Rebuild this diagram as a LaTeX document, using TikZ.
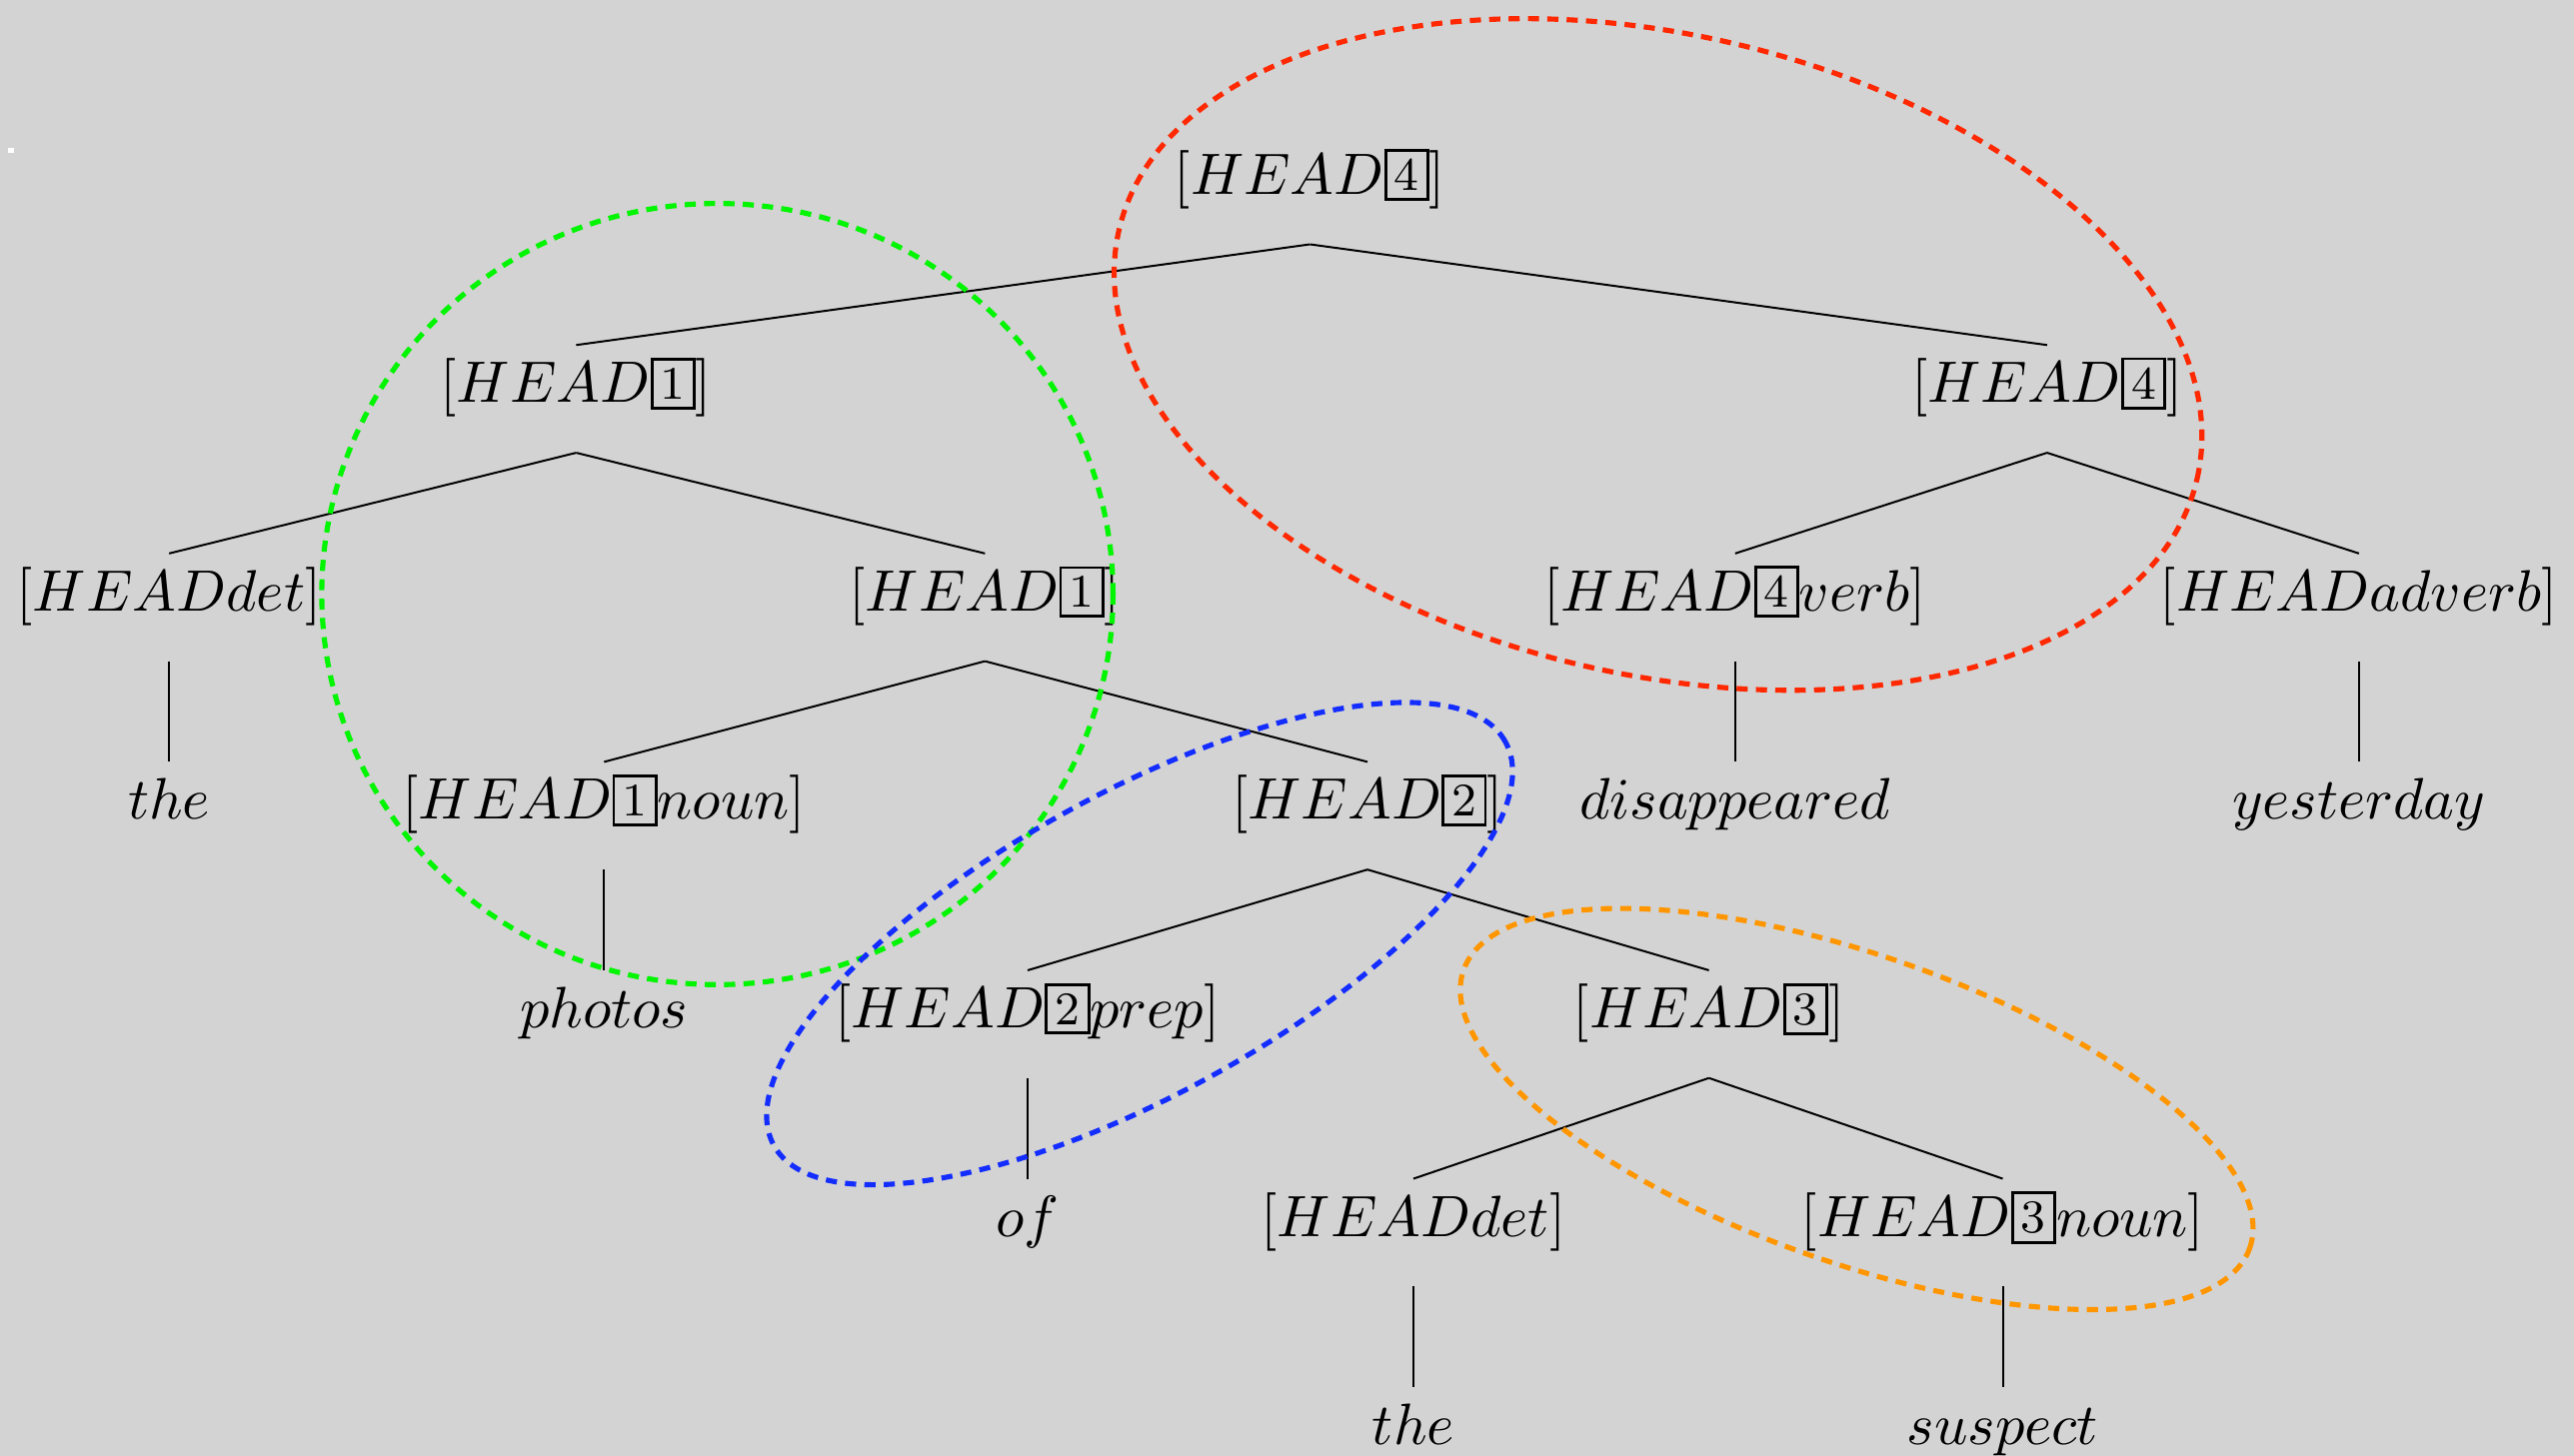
\documentclass[tikz,border=0pt]{standalone}
\usetikzlibrary{positioning}

\definecolor{bggray}{RGB}{211,211,211}
\definecolor{spanred}{RGB}{255,40,0}
\definecolor{spangreen}{RGB}{0,245,0}
\definecolor{spanblue}{RGB}{20,45,255}
\definecolor{spanorange}{RGB}{255,150,0}

\newcommand{\featbox}[1]{{\setlength{\fboxsep}{1.25pt}\setlength{\fboxrule}{0.5pt}\raisebox{0.6pt}{\fbox{\footnotesize #1}}}}

\begin{document}
\begin{tikzpicture}[x=1.0126cm, y=1.0126cm,
        feat/.style={inner sep=0pt, scale=1.025, text height=9.65pt, text depth=8.4pt, anchor=base},
        blob/.style={line width=0.9pt, dash pattern=on 1.95pt off 1.45pt}]
            % the frame
            \fill[bggray] (0,0) rectangle (15.68,8.87);
            \useasboundingbox (0,0) rectangle (15.68,8.87);
            \fill[white] (0.05,7.94) rectangle (0.085,7.97);

            % the tree
            \node[feat] (head4) at (7.98,7.687) {$[HEAD\featbox{4}]$};

            \node[feat] (head1) at (3.51,6.417) {$[HEAD\featbox{1}]$};
            \node[feat] (head4b) at (12.47,6.417) {$[HEAD\featbox{4}]$};

            \node[feat] (det) at (1.03,5.147) {$[HEAD det]$};
            \node[feat] (head1b) at (6.00,5.147) {$[HEAD\featbox{1}]$};
            \node[feat] (verb) at (10.57,5.147) {$[HEAD\featbox{4}verb]$};
            \node[feat] (adverb) at (14.37,5.147) {$[HEAD adverb]$};

            \node[feat] (the) at (1.03,3.877) {$the$};
            \node[feat] (noun) at (3.68,3.877) {$[HEAD\featbox{1}noun]$};
            \node[feat] (head2) at (8.33,3.877) {$[HEAD\featbox{2}]$};
            \node[feat] (disappeared) at (10.57,3.877) {$disappeared$};
            \node[feat] (yesterday) at (14.37,3.877) {$yesterday$};

            \node[feat] (photos) at (3.68,2.607) {$photos$};
            \node[feat] (prep) at (6.26,2.607) {$[HEAD\featbox{2}prep]$};
            \node[feat] (head3) at (10.41,2.607) {$[HEAD\featbox{3}]$};

            \node[feat] (of) at (6.26,1.337) {$of$};
            \node[feat] (detb) at (8.61,1.337) {$[HEAD det]$};
            \node[feat] (nounb) at (12.20,1.337) {$[HEAD\featbox{3}noun]$};

            \node[feat] (theb) at (8.61,0.067) {$the$};
            \node[feat] (suspect) at (12.20,0.067) {$suspect$};

            % branches
            \foreach \up/\down in {head4/head1, head4/head4b, head1/det, head1/head1b,
                    head4b/verb, head4b/adverb, det/the, head1b/noun, head1b/head2,
                    verb/disappeared, adverb/yesterday, noun/photos, head2/prep,
                    head2/head3, prep/of, head3/detb, head3/nounb, detb/theb,
                    nounb/suspect} {
                \draw[line width=0.35pt] (\up.south) -- (\down.north);
            };

            % the spans
            \draw[blob, spangreen] (4.37,5.25) ellipse [x radius=2.41, y radius=2.38];
            \draw[blob, spanred, rotate around={-13:(10.10,6.71)}] (10.10,6.71) ellipse [x radius=3.37, y radius=1.95];
            \draw[blob, spanblue, rotate around={28.9:(6.942,3.12)}] (6.942,3.12) ellipse [x radius=2.545, y radius=0.918];
            \draw[blob, spanorange, rotate around={-19.5:(11.31,2.112)}] (11.31,2.112) ellipse [x radius=2.54, y radius=0.934];

        \end{tikzpicture}
\end{document}
